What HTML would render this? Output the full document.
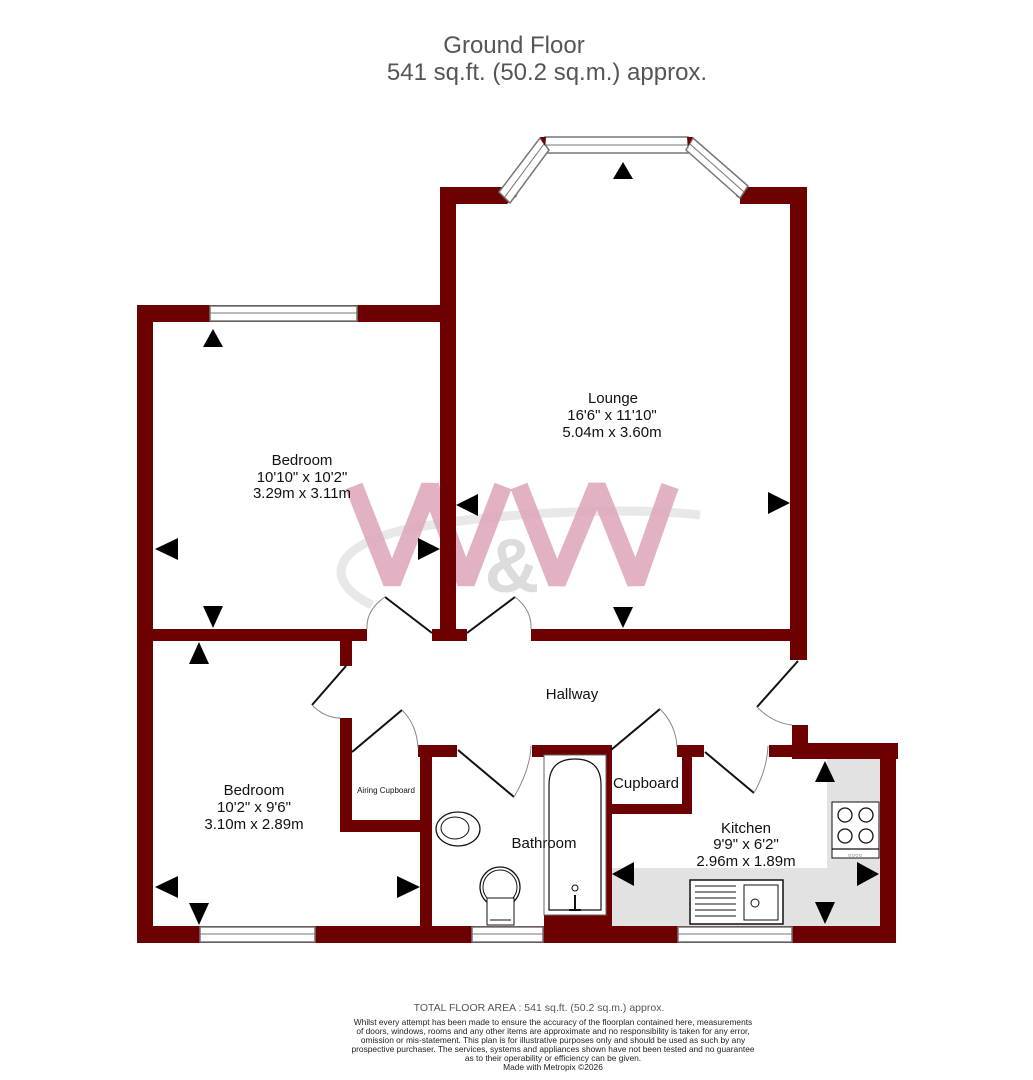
<!DOCTYPE html>
<html><head><meta charset="utf-8"><style>
html,body{margin:0;padding:0;background:#fff;}
svg{display:block;font-family:"Liberation Sans",sans-serif;}
</style></head><body>
<svg width="1033" height="1080" viewBox="0 0 1033 1080" xmlns="http://www.w3.org/2000/svg">
<rect width="1033" height="1080" fill="#fff"/>
<text x="514" y="53" font-size="24" fill="#555" text-anchor="middle">Ground Floor</text>
<text x="547" y="80" font-size="24" fill="#555" text-anchor="middle">541 sq.ft. (50.2 sq.m.) approx.</text>

<!-- kitchen grey -->
<path d="M611 868 H827 V759 H880 V926 H611 Z" fill="#e2e2e2"/>

<!-- watermark -->
<path d="M372 605 C 320 580, 330 540, 430 525 C 530 510, 640 508, 700 515" fill="none" stroke="#e8e8e8" stroke-width="9"/>
<g fill="none" stroke="#dfa9bd" stroke-width="18" stroke-linejoin="bevel" opacity="0.9">
<polyline points="354,486 392,583 430,486 466,583 503,486"/>
<polyline points="519,486 557,583 597,486 636,583 670,486"/>
</g>
<text x="512" y="592" font-size="76" font-weight="bold" fill="#dcdcdc" text-anchor="middle">&amp;</text>

<g fill="#6d0000">
<rect x="137" y="305" width="319" height="17"/>
<rect x="137" y="305" width="16" height="638"/>
<rect x="440" y="187" width="16" height="454"/>
<rect x="440" y="187" width="67" height="17"/>
<polygon points="500,187 510,187 517,196 507,204 500,204"/>
<rect x="740" y="187" width="67" height="17"/>
<polygon points="740,187 748,187 748,204 736,196"/>
<rect x="790" y="187" width="17" height="473"/>
<rect x="137" y="629" width="230" height="12"/>
<rect x="432" y="629" width="35" height="12"/>
<rect x="531" y="629" width="276" height="12"/>
<rect x="340" y="641" width="12" height="25"/>
<rect x="340" y="718" width="12" height="114"/>
<rect x="340" y="820" width="92" height="12"/>
<rect x="418" y="745" width="39" height="12"/>
<rect x="420" y="745" width="12" height="198"/>
<rect x="532" y="745" width="79" height="12"/>
<rect x="606" y="745" width="6" height="198"/>
<rect x="544" y="915" width="67" height="28"/>
<rect x="677" y="745" width="27" height="12"/>
<rect x="682" y="745" width="10" height="69"/>
<rect x="611" y="804" width="81" height="10"/>
<rect x="769" y="745" width="39" height="12"/>
<rect x="792" y="725" width="16" height="34"/>
<rect x="792" y="743" width="106" height="16"/>
<rect x="880" y="743" width="16" height="200"/>
<rect x="137" y="926" width="759" height="17"/>
</g>

<g fill="#fff" stroke="#777" stroke-width="1.5">
<rect x="210" y="306" width="147" height="15"/>
<rect x="200" y="927" width="115" height="15"/>
<rect x="472" y="927" width="71" height="15"/>
<rect x="678" y="927" width="114" height="15"/>
<polygon points="545,137 688,137 688,153 545,153"/>
<polygon points="499,192 540,138 549,150 510,203"/>
<polygon points="693,138 748,186 740,198 686,150"/>
</g>
<g stroke="#777" stroke-width="1">
<line x1="210" y1="313" x2="357" y2="313"/><line x1="200" y1="934" x2="315" y2="934"/>
<line x1="472" y1="934" x2="543" y2="934"/><line x1="678" y1="934" x2="792" y2="934"/>
<line x1="545" y1="145" x2="688" y2="145"/>
<line x1="504" y1="198" x2="544" y2="144"/><line x1="690" y1="144" x2="744" y2="192"/>
</g>
<polygon points="540,137 546,137 545,146" fill="#6d0000"/>
<polygon points="687,137 693,137 688,146" fill="#6d0000"/>

<g fill="none" stroke="#111" stroke-width="2">
<line x1="432" y1="633" x2="385" y2="597"/>
<line x1="467" y1="633" x2="515" y2="597"/>
<line x1="346" y1="666" x2="312" y2="705"/>
<line x1="352" y1="752" x2="402" y2="710"/>
<line x1="458" y1="750" x2="514" y2="797"/>
<line x1="611" y1="750" x2="660" y2="709"/>
<line x1="705" y1="752" x2="754" y2="793"/>
<line x1="798" y1="661" x2="757" y2="707"/>
</g>
<g fill="none" stroke="#888" stroke-width="1">
<path d="M385 597 Q 366 610 367 629"/>
<path d="M515 597 Q 532 610 531 629"/>
<path d="M312 705 Q 325 718 340 718"/>
<path d="M402 710 Q 417 725 418 748"/>
<path d="M514 797 Q 530 770 531 746"/>
<path d="M660 709 Q 676 725 677 747"/>
<path d="M754 793 Q 767 770 768 746"/>
<path d="M757 707 Q 773 723 792 725"/>
</g>

<rect x="544" y="755" width="62" height="160" fill="#fff" stroke="#666" stroke-width="1"/>
<path d="M549 910 V785 Q549 759 575 759 Q601 759 601 785 V910 Z" fill="#fff" stroke="#111" stroke-width="1.2"/>
<circle cx="575" cy="888" r="3" fill="none" stroke="#111"/>
<path d="M575 895 V910 M569 910 H581" stroke="#111" stroke-width="2"/>
<ellipse cx="458" cy="829" rx="22" ry="17" fill="#fff" stroke="#111" stroke-width="1.3"/>
<ellipse cx="455" cy="828" rx="14" ry="11" fill="none" stroke="#111"/>
<circle cx="500" cy="887" r="20" fill="#fff" stroke="#111" stroke-width="1.3"/>
<circle cx="500" cy="887" r="17" fill="none" stroke="#111"/>
<rect x="487" y="898" width="27" height="27" fill="#fff" stroke="#111"/>
<line x1="490" y1="920" x2="511" y2="920" stroke="#111"/>
<rect x="832" y="802" width="47" height="56" fill="#fff" stroke="#111"/>
<g fill="none" stroke="#111" stroke-width="1.3">
<circle cx="845" cy="815" r="7"/><circle cx="866" cy="815" r="7"/>
<circle cx="845" cy="836" r="7"/><circle cx="866" cy="836" r="7"/>
<line x1="832" y1="849" x2="879" y2="849"/>
</g>
<text x="855" y="857" font-size="6" text-anchor="middle" fill="#333">○○○○</text>
<rect x="690" y="880" width="93" height="44" fill="#fff" stroke="#111" stroke-width="1.5"/>
<rect x="744" y="885" width="34" height="35" fill="none" stroke="#111"/>
<g stroke="#111"><line x1="695" y1="886" x2="736" y2="886"/><line x1="695" y1="892" x2="736" y2="892"/><line x1="695" y1="898" x2="736" y2="898"/><line x1="695" y1="904" x2="736" y2="904"/><line x1="695" y1="910" x2="736" y2="910"/><line x1="695" y1="916" x2="736" y2="916"/></g>
<circle cx="755" cy="903" r="4" fill="none" stroke="#111"/>

<g fill="#000">
<polygon points="623,162 613,179 633,179"/>
<polygon points="456,505 478,494 478,516"/>
<polygon points="790,503 768,492 768,514"/>
<polygon points="623,628 613,607 633,607"/>
<polygon points="213,329 203,347 223,347"/>
<polygon points="155,549 178,538 178,560"/>
<polygon points="440,549 418,538 418,560"/>
<polygon points="213,628 203,606 223,606"/>
<polygon points="199,642 189,664 209,664"/>
<polygon points="155,887 178,876 178,898"/>
<polygon points="420,887 397,876 397,898"/>
<polygon points="199,925 189,903 209,903"/>
<polygon points="825,761 815,782 835,782"/>
<polygon points="612,874 634,862 634,886"/>
<polygon points="879,874 857,862 857,886"/>
<polygon points="825,924 815,902 835,902"/>
</g>

<g font-size="15" fill="#111" text-anchor="middle">
<text x="613" y="403">Lounge</text>
<text x="612" y="420">16'6"  x 11'10"</text>
<text x="612" y="437">5.04m  x 3.60m</text>
<text x="302" y="465">Bedroom</text>
<text x="302" y="482">10'10"  x 10'2"</text>
<text x="302" y="498">3.29m  x 3.11m</text>
<text x="572" y="699">Hallway</text>
<text x="254" y="795">Bedroom</text>
<text x="254" y="812">10'2"  x 9'6"</text>
<text x="254" y="829">3.10m  x 2.89m</text>
<text x="544" y="848">Bathroom</text>
<text x="646" y="788">Cupboard</text>
<text x="746" y="833">Kitchen</text>
<text x="746" y="849">9'9"  x 6'2"</text>
<text x="746" y="866">2.96m  x 1.89m</text>
<text x="386" y="793" font-size="8">Airing Cupboard</text>
</g>

<g fill="#555" text-anchor="middle">
<text x="539" y="1011" font-size="10.5">TOTAL FLOOR AREA : 541 sq.ft. (50.2 sq.m.) approx.</text>
<g font-size="8.4" fill="#222">
<text x="553" y="1025">Whilst every attempt has been made to ensure the accuracy of the floorplan contained here, measurements</text>
<text x="553" y="1034">of doors, windows, rooms and any other items are approximate and no responsibility is taken for any error,</text>
<text x="553" y="1043">omission or mis-statement. This plan is for illustrative purposes only and should be used as such by any</text>
<text x="553" y="1052">prospective purchaser. The services, systems and appliances shown have not been tested and no guarantee</text>
<text x="553" y="1061">as to their operability or efficiency can be given.</text>
<text x="553" y="1070">Made with Metropix ©2026</text>
</g></g>
</svg>
</body></html>
